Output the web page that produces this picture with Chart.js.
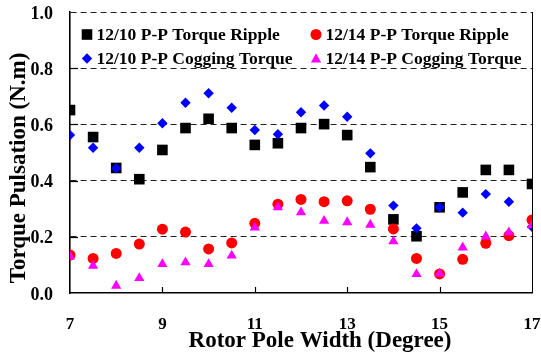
<!DOCTYPE html>
<html>
<head>
<meta charset="utf-8">
<script src="https://cdn.jsdelivr.net/npm/chart.js@4/dist/chart.umd.min.js"></script>
<style>
html,body{margin:0;padding:0;background:#fff;}
#wrap{width:541px;height:356px;position:relative;}
</style>
</head>
<body>
<div id="wrap"><canvas id="c" width="541" height="356"></canvas></div>
<script>
// ---- data ----
const poleWidth   = [7, 7.5, 8, 8.5, 9, 9.5, 10, 10.5, 11, 11.5, 12, 12.5, 13, 13.5, 14, 14.5, 15, 15.5, 16, 16.5, 17];
const ripple1210  = [0.651, 0.555, 0.445, 0.405, 0.509, 0.587, 0.620, 0.587, 0.527, 0.533, 0.587, 0.601, 0.562, 0.448, 0.262, 0.202, 0.305, 0.358, 0.438, 0.438, 0.388];
const cogging1210 = [0.562, 0.517, 0.444, 0.517, 0.604, 0.677, 0.711, 0.659, 0.580, 0.565, 0.643, 0.667, 0.627, 0.497, 0.311, 0.230, 0.305, 0.286, 0.352, 0.325, 0.236];
const ripple1214  = [0.135, 0.123, 0.141, 0.174, 0.227, 0.217, 0.157, 0.178, 0.248, 0.316, 0.333, 0.325, 0.328, 0.298, 0.228, 0.123, 0.068, 0.120, 0.177, 0.204, 0.260];
const cogging1214 = [0.130, 0.097, 0.026, 0.053, 0.103, 0.109, 0.103, 0.133, 0.233, 0.305, 0.287, 0.257, 0.252, 0.243, 0.184, 0.067, 0.069, 0.162, 0.201, 0.216, 0.241];
const seriesLabels = ['12/10 P-P Torque Ripple', '12/10 P-P Cogging Torque', '12/14 P-P Torque Ripple', '12/14 P-P Cogging Torque'];
const xTickValues = [7, 9, 11, 13, 15, 17];
const yTickValues = [0, 0.2, 0.4, 0.6, 0.8, 1.0];
const xTitle = 'Rotor Pole Width (Degree)';
const yTitle = 'Torque Pulsation (N.m)';

const SERIF = '"Liberation Serif", "Times New Roman", serif';

function pts(ys){ return poleWidth.map((x,i)=>({x:x, y:ys[i]})); }

const datasets = [
  {label: seriesLabels[0], data: pts(ripple1210),  pointStyle:'rect',     pointRadius:7.5, backgroundColor:'#000000', borderColor:'#000000', order:4},
  {label: seriesLabels[1], data: pts(cogging1210), pointStyle:'rectRot',  pointRadius:5.2, backgroundColor:'#0000FF', borderColor:'#0000FF', order:3},
  {label: seriesLabels[2], data: pts(ripple1214),  pointStyle:'circle',   pointRadius:5.5, backgroundColor:'#FF0000', borderColor:'#FF0000', order:2},
  {label: seriesLabels[3], data: pts(cogging1214), pointStyle:'triangle', pointRadius:5.9, backgroundColor:'#FF00FF', borderColor:'#FF00FF', order:1}
];
datasets.forEach(d => { d.pointBorderWidth = 0; d.pointHoverRadius = d.pointRadius; d.showLine = false; });

// legend layout: [datasetIndex, column, row]
const legendLayout = [[0,0,0],[2,1,0],[1,0,1],[3,1,1]];

function drawMarker(ctx, style, color, x, y){
  ctx.save();
  ctx.fillStyle = color;
  ctx.beginPath();
  if (style === 'rect') { ctx.rect(x-5.3, y-5.3, 10.6, 10.6); }
  else if (style === 'rectRot') { const r=5.2; ctx.moveTo(x, y-r); ctx.lineTo(x+r, y); ctx.lineTo(x, y+r); ctx.lineTo(x-r, y); ctx.closePath(); }
  else if (style === 'circle') { ctx.arc(x, y, 5.5, 0, Math.PI*2); }
  else if (style === 'triangle') { const r=5.9; ctx.moveTo(x, y-r*0.75-0.5); ctx.lineTo(x+r*0.866, y+r*0.75-0.5); ctx.lineTo(x-r*0.866, y+r*0.75-0.5); ctx.closePath(); }
  ctx.fill();
  ctx.restore();
}

const framePlugin = {
  id: 'frame',
  beforeDatasetsDraw(chart){
    const {ctx, chartArea:a, scales:{x, y}} = chart;
    ctx.save();
    ctx.strokeStyle = '#000';
    ctx.lineWidth = 1;
    // right border
    ctx.beginPath(); ctx.moveTo(a.right+0.5, a.top); ctx.lineTo(a.right+0.5, a.bottom); ctx.stroke();
    // inward ticks
    ctx.lineWidth = 1.2;
    xTickValues.forEach(v => {
      if (v === x.min || v === x.max) return;
      const px = Math.round(x.getPixelForValue(v)) + 0.5;
      ctx.beginPath(); ctx.moveTo(px, a.bottom); ctx.lineTo(px, a.bottom-6); ctx.stroke();
    });
    yTickValues.forEach(v => {
      if (v === y.min || v === y.max) return;
      const py = Math.round(y.getPixelForValue(v)) + 0.5;
      ctx.beginPath(); ctx.moveTo(a.left, py); ctx.lineTo(a.left+8, py); ctx.stroke();
    });
    ctx.restore();
  },
  afterDraw(chart){
    const {ctx} = chart;
    ctx.save();
    ctx.fillStyle = '#000';
    // axis titles
    ctx.font = 'bold 23px ' + SERIF;
    ctx.textAlign = 'center';
    ctx.textBaseline = 'middle';
    ctx.fillText(xTitle, 320, 341);
    ctx.save();
    ctx.translate(19, 168);
    ctx.rotate(-Math.PI/2);
    ctx.fillText(yTitle, 0, 0);
    ctx.restore();
    // legend
    ctx.font = 'bold 17.5px ' + SERIF;
    ctx.textAlign = 'left';
    const colX = [87, 316];
    const rowY = [34.5, 58.5];
    legendLayout.forEach(([di, c, r]) => {
      const ds = chart.data.datasets[di];
      drawMarker(ctx, ds.pointStyle, ds.backgroundColor, colX[c], rowY[r]);
      ctx.fillStyle = '#000';
      ctx.fillText(ds.label, colX[c] + 9.5, rowY[r] + 0.5);
    });
    ctx.restore();
  }
};

new Chart(document.getElementById('c'), {
  type: 'scatter',
  data: { datasets },
  options: {
    responsive: false,
    animation: false,
    devicePixelRatio: 1,
    layout: { padding: { top: 12, right: 9, left: 0, bottom: 0 } },
    plugins: { legend: { display: false }, tooltip: { enabled: false } },
    scales: {
      x: {
        type: 'linear', min: 7, max: 17,
        afterFit: s => { s.height = 63; s.paddingLeft = 0; s.paddingRight = 0; s.paddingTop = 0; s.paddingBottom = 0; },
        afterBuildTicks: s => { s.ticks = xTickValues.map(v => ({value: v})); },
        grid: { display: false },
        border: { display: true, color: '#000', width: 1.6 },
        ticks: { color: '#000', padding: 13, maxRotation: 0, font: { family: SERIF, size: 17, weight: 'bold' } }
      },
      y: {
        type: 'linear', min: 0, max: 1,
        afterFit: s => { s.width = 70; s.paddingLeft = 0; s.paddingRight = 0; s.paddingTop = 0; s.paddingBottom = 0; },
        afterBuildTicks: s => { s.ticks = yTickValues.map(v => ({value: v})); },
        grid: { display: true, drawTicks: false, lineWidth: 1,
                color: c => (c.tick && c.tick.value === 0) ? 'rgba(0,0,0,0)' : '#222' },
        border: { display: true, color: '#000', width: 1.6, dash: [6, 4] },
        ticks: { color: '#000', padding: 17, labelOffset: 2, font: { family: SERIF, size: 18, weight: 'bold' },
                 callback: v => Number(v).toFixed(1) }
      }
    }
  },
  plugins: [framePlugin]
});
</script>
</body>
</html>
